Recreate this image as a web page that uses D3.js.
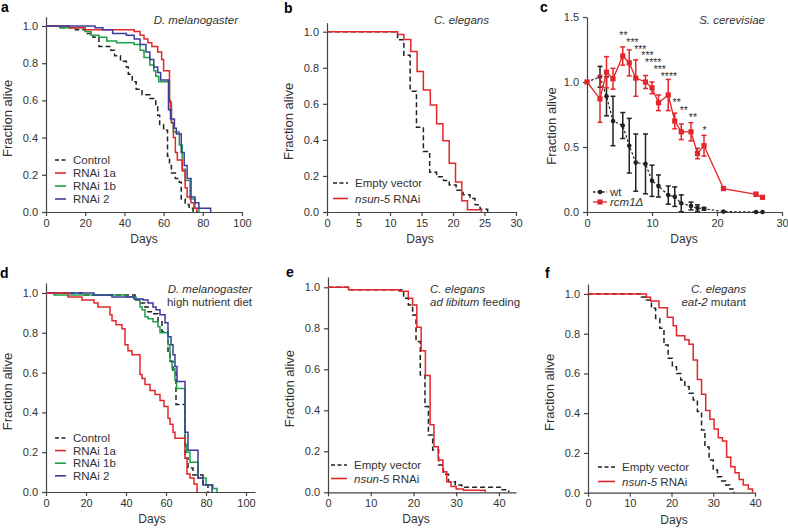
<!DOCTYPE html>
<html><head><meta charset="utf-8">
<script src="https://cdn.jsdelivr.net/npm/d3@7"></script>
<style>
body{margin:0;background:#fff;}
svg{display:block;font-family:"Liberation Sans",Arial,Helvetica,sans-serif;}
.axis path,.axis line{stroke:#444;stroke-width:1.2;}
.axis text{fill:#333;font-size:11px;font-family:"Liberation Sans",Arial,sans-serif;}
</style></head>
<body>
<script>
// ---------- DATA ----------
// Panel a: D. melanogaster  [day, fraction alive]
const aControl = [[0,1],[8,0.99],[15,0.98],[20,0.96],[24,0.94],[27,0.89],[33,0.87],[35,0.84],[38,0.81],[41,0.78],[42,0.74],[44,0.70],[46,0.66],[49,0.63],[53,0.61],[56,0.57],[57,0.52],[58,0.47],[60,0.44],[62,0.30],[63,0.25],[64,0.21],[66,0.18],[68,0.16],[69,0.07],[71,0.04],[73,0.02],[75,0.005],[77,0]];
const aRNAi1a = [[0,1],[12,0.99],[20,0.98],[45,0.97],[48,0.95],[50,0.93],[52,0.91],[54,0.89],[57,0.86],[59,0.82],[60,0.76],[63,0.60],[63.5,0.55],[64,0.48],[65,0.40],[66,0.32],[67,0.28],[69.5,0.22],[71,0.13],[72,0.08],[74,0.05],[75.5,0.02],[77,0]];
const aRNAi1b = [[0,1],[7,0.99],[20,0.97],[23,0.95],[27,0.94],[31,0.92],[36,0.91],[45,0.90],[48,0.87],[50,0.83],[53,0.79],[55,0.76],[56,0.73],[57.5,0.70],[63,0.59],[64,0.48],[65,0.43],[68,0.36],[69.5,0.23],[71,0.17],[73.5,0.07],[76,0.02],[78,0]];
const aRNAi2 = [[0,1],[25,0.99],[29,0.98],[34,0.96],[41,0.95],[45,0.93],[48,0.90],[51,0.86],[53,0.82],[55,0.78],[57,0.75],[58.5,0.71],[62.5,0.55],[63.5,0.50],[65.5,0.45],[66.5,0.42],[69,0.32],[70.5,0.25],[72,0.18],[74,0.08],[76,0.05],[78,0.02],[84,0]];

// Panel d: D. melanogaster, high nutrient diet
const dControl = [[0,1],[18,0.99],[44.5,0.965],[47,0.95],[49.5,0.93],[51,0.905],[53.5,0.895],[56,0.855],[58,0.805],[61,0.70],[62,0.655],[63.5,0.60],[65,0.44],[69.5,0.17],[71,0.12],[73.5,0.085],[78.5,0.035],[81,0]];
const dRNAi1a = [[0,1],[11,0.98],[18,0.965],[24,0.95],[26,0.93],[32,0.89],[33,0.86],[35,0.84],[38,0.82],[39.5,0.74],[41,0.71],[43,0.69],[47,0.59],[48,0.57],[49.5,0.54],[52,0.51],[54.5,0.49],[57,0.46],[59,0.43],[61,0.37],[62,0.34],[63.5,0.30],[64.5,0.27],[69.5,0.17],[70.5,0.09],[72,0.07],[74,0.04],[75.5,0]];
const dRNAi1b = [[0,1],[4,0.99],[40,0.98],[45,0.965],[47,0.93],[48,0.915],[49.5,0.88],[51,0.87],[53.5,0.855],[56,0.83],[57,0.80],[61,0.74],[62,0.66],[63,0.62],[64.5,0.56],[65.3,0.52],[69.5,0.24],[70.3,0.20],[72,0.15],[76,0.07],[80,0.035],[83.5,0.018],[85.5,0]];
const dRNAi2 = [[0,1],[24,0.99],[33,0.98],[44,0.97],[48.5,0.965],[51,0.95],[53.5,0.93],[55,0.915],[57,0.89],[59.5,0.85],[61,0.78],[62.5,0.74],[63.5,0.69],[64.5,0.63],[65.5,0.555],[69.5,0.30],[71,0.21],[76,0.07],[78.5,0.035],[83,0]];

// Panel b: C. elegans
const bEmpty = [[0,1],[11.2,0.955],[12.2,0.87],[13.2,0.67],[14.2,0.47],[15.3,0.335],[16.3,0.22],[17.4,0.195],[18.5,0.175],[19.4,0.15],[20.5,0.12],[21.6,0.095],[22.7,0.075],[23.5,0.04],[24.3,0.015],[25.5,0]];
const bNsun5 = [[0,1],[11.2,0.985],[12.2,0.957],[13.3,0.89],[14.3,0.78],[15.3,0.677],[16.4,0.593],[17.4,0.49],[18.4,0.395],[19.4,0.27],[20.4,0.166],[21.4,0.063],[22.3,0.012],[24.5,0]];

// Panel e: C. elegans ad libitum feeding
const eEmpty = [[0,1],[4.8,0.988],[17.7,0.946],[18.8,0.914],[19.8,0.865],[20.6,0.735],[21.6,0.572],[22.7,0.418],[23.5,0.28],[24.5,0.206],[25.9,0.133],[27,0.088],[28.2,0.052],[29.8,0.036],[31.3,0.025],[40.3,0.012],[42.3,0]];
const eNsun5 = [[0,1],[4.8,0.988],[16.7,0.98],[18.8,0.946],[19.8,0.914],[20.8,0.805],[21.8,0.69],[22.8,0.57],[23.9,0.33],[24.8,0.222],[25.8,0.157],[26.9,0.10],[27.8,0.052],[28.8,0.028],[30,0.016],[31.7,0.01],[36.8,0]];

// Panel f: C. elegans eat-2 mutant
const fEmpty = [[0,1],[12.8,0.985],[14,0.97],[15.2,0.928],[16.2,0.877],[17.2,0.827],[18.2,0.743],[19.2,0.676],[20.2,0.634],[21.2,0.60],[22.2,0.567],[23.2,0.534],[24.2,0.50],[25.2,0.466],[26.2,0.408],[27.2,0.315],[28,0.23],[29,0.164],[30,0.114],[31,0.08],[32,0.059],[33,0.039],[34,0.018],[35,0]];
const fNsun5 = [[0,1],[14,0.983],[15,0.965],[17,0.93],[19,0.883],[20.4,0.84],[21.2,0.79],[23.2,0.77],[24.2,0.747],[25.2,0.668],[26.2,0.57],[27.2,0.495],[28.2,0.413],[29.2,0.37],[30.2,0.32],[31.2,0.277],[32.2,0.26],[33.2,0.178],[34.2,0.131],[35.2,0.10],[36.2,0.067],[37.2,0.039],[38.4,0.018],[39.4,0]];

// Panel c: S. cerevisiae
const cDays   = [0,2,3,4,5.5,6.5,7.5,9,10,11,12.5,13.5,14.5,16,17,18,21,26,27];
const cWt     = [1.0,1.04,0.89,0.70,0.665,0.51,0.38,0.37,0.24,0.20,0.13,0.118,0.067,0.046,0.03,0.025,0.003,0.0,0.0];
const cWtErr  = [0,0.08,0.15,0.19,0.10,0.21,0.22,0.23,0.12,0.085,0.07,0.075,0.065,0.03,0.025,0.01,0,0,0];
const cRcm    = [1.0,0.87,1.075,1.025,1.2,1.147,1.03,1.0,0.955,0.84,0.9,0.70,0.617,0.617,0.45,0.51,0.18,0.136,0.113];
const cRcmErr = [0,0.18,0.12,0.08,0.07,0.10,0.14,0.05,0.045,0.06,0.12,0.06,0.06,0.07,0.04,0.08,0.01,0.015,0.008];
const starDays   = [5.6,7.0,8.2,9.3,10.2,11.2,12.6,13.8,14.9,16.3,18.1];
const starLevels = [1.375,1.32,1.27,1.22,1.17,1.115,1.065,0.86,0.80,0.745,0.645];
const starLabels = ["**","***","***","***","****","***","****","**","**","**","*"];

// tick labels
const ticksFly = [0,20,40,60,80,100];
const ticksB = [0,5,10,15,20,25,30];
const ticksWorm = [0,10,20,30,40];
const ticksC = [0,10,20,30];
const yTicks = [0,0.2,0.4,0.6,0.8,1.0];
const yTicksC = [0,0.5,1.0,1.5];

// ---------- DRAW ----------
const RED="#e3262b", GREEN="#1f9e4a", BLUE="#3b3c9a", BLACK="#222";
const svg = d3.select("body").append("svg").attr("width",788).attr("height",531);
svg.append("rect").attr("width",788).attr("height",531).attr("fill","#fff");

function axes(g, x, y, xt, yt){
  g.append("g").attr("class","axis").attr("transform",`translate(0,${y.range()[0]})`)
    .call(d3.axisBottom(x).tickValues(xt).tickSize(4).tickSizeOuter(0).tickPadding(3).tickFormat(d3.format("d")));
  g.append("g").attr("class","axis").attr("transform",`translate(${x.range()[0]},0)`)
    .call(d3.axisLeft(y).tickValues(yt).tickSize(4).tickSizeOuter(0).tickPadding(4).tickFormat(d3.format(".1f")));
}
function titles(g, x, y, letter, lx, ly, dx, ycen, tx){
  const [x0,x1]=x.range(), [y0,y1]=y.range();
  g.append("text").attr("x",dx!=null?dx:(x0+x1)/2).attr("y",y0+31).attr("text-anchor","middle")
    .attr("font-size",12).attr("fill","#333").text("Days");
  g.append("text").attr("transform",`translate(${x0-(tx||34)},${ycen!=null?ycen:(y0+y1)/2+4}) rotate(-90)`).attr("text-anchor","middle")
    .attr("font-size",13).attr("fill","#333").text("Fraction alive");
  g.append("text").attr("x",lx).attr("y",ly).attr("font-size",14).attr("font-weight","bold").attr("fill","#000").text(letter);
}
function steps(g, x, y, data, color, dashed){
  const line = d3.line().x(d=>x(d[0])).y(d=>y(d[1])).curve(d3.curveStepAfter);
  g.append("path").attr("d",line(data)).attr("fill","none").attr("stroke",color)
    .attr("stroke-width",1.5).attr("stroke-dasharray",dashed?"5,3":null);
}
function legend(g, items, lx, ly, dy, len){
  items.forEach((it,i)=>{
    const yy = ly + i*dy;
    g.append("line").attr("x1",lx).attr("x2",lx+len).attr("y1",yy).attr("y2",yy)
      .attr("stroke",it.color).attr("stroke-width",1.6).attr("stroke-dasharray",it.dashed?"4,2.5":null);
    const t = g.append("text").attr("x",lx+len+7).attr("y",yy+4).attr("font-size",11.5).attr("fill","#333");
    it.parts.forEach(p=>t.append("tspan").attr("font-style",p[1]?"italic":null).text(p[0]));
  });
}
function label(g, lines, x, y, anchor){
  lines.forEach((parts,i)=>{
    const t = g.append("text").attr("x",x).attr("y",y+i*13).attr("text-anchor",anchor).attr("font-size",11.5).attr("fill","#333");
    parts.forEach(p=>t.append("tspan").attr("font-style",p[1]?"italic":null).text(p[0]));
  });
}

// Panel a
{
  const g = svg.append("g");
  const x = d3.scaleLinear().domain([0,100]).range([46,242]);
  const y = d3.scaleLinear().domain([0,1.05]).range([212,16.7]);
  axes(g,x,y,ticksFly,yTicks); titles(g,x,y,"a",1,12);
  steps(g,x,y,aControl,BLACK,true); steps(g,x,y,aRNAi1b,GREEN); steps(g,x,y,aRNAi1a,RED); steps(g,x,y,aRNAi2,BLUE);
  label(g,[[["D. melanogaster",1]]],238,24,"end");
  legend(g,[{color:BLACK,dashed:1,parts:[["Control"]]},{color:RED,parts:[["RNAi 1a"]]},{color:GREEN,parts:[["RNAi 1b"]]},{color:BLUE,parts:[["RNAi 2"]]}],55,160,13,11);
}
// Panel d
{
  const g = svg.append("g");
  const x = d3.scaleLinear().domain([0,104.5]).range([46,255]);
  const y = d3.scaleLinear().domain([0,1.05]).range([492,283]);
  axes(g,x,y,ticksFly,yTicks); titles(g,x,y,"d",0,278,152);
  steps(g,x,y,dControl,BLACK,true); steps(g,x,y,dRNAi1b,GREEN); steps(g,x,y,dRNAi2,BLUE); steps(g,x,y,dRNAi1a,RED);
  label(g,[[["D. melanogaster",1]],[["high nutrient diet"]]],252,293,"end");
  legend(g,[{color:BLACK,dashed:1,parts:[["Control"]]},{color:RED,parts:[["RNAi 1a"]]},{color:GREEN,parts:[["RNAi 1b"]]},{color:BLUE,parts:[["RNAi 2"]]}],55,438,12.6,11);
}
// Panel b
{
  const g = svg.append("g");
  const x = d3.scaleLinear().domain([0,30]).range([327,516]);
  const y = d3.scaleLinear().domain([0,1.05]).range([212,22.7]);
  axes(g,x,y,ticksB,yTicks); titles(g,x,y,"b",284,13,420);
  steps(g,x,y,bEmpty,BLACK,true); steps(g,x,y,bNsun5,RED);
  label(g,[[["C. elegans",1]]],489,24,"end");
  legend(g,[{color:BLACK,dashed:1,parts:[["Empty vector"]]},{color:RED,parts:[["nsun-5",1],[" RNAi"]]}],333,183,15.5,15);
}
// Panel e
{
  const g = svg.append("g");
  const x = d3.scaleLinear().domain([0,44]).range([328,516]);
  const y = d3.scaleLinear().domain([0,1.05]).range([492.3,277]);
  axes(g,x,y,ticksWorm,yTicks); titles(g,x,y,"e",286,277,416);
  steps(g,x,y,eEmpty,BLACK,true); steps(g,x,y,eNsun5,RED);
  label(g,[[["C. elegans",1]],[["ad libitum",1],[" feeding"]]],430,293,"start");
  legend(g,[{color:BLACK,dashed:1,parts:[["Empty vector"]]},{color:RED,parts:[["nsun-5",1],[" RNAi"]]}],331,465,13.5,16);
}
// Panel f
{
  const g = svg.append("g");
  const x = d3.scaleLinear().domain([0,40]).range([588,755]);
  const y = d3.scaleLinear().domain([0,1.05]).range([492.7,284]);
  axes(g,x,y,ticksWorm,yTicks); titles(g,x,y,"f",545,278,674);
  steps(g,x,y,fEmpty,BLACK,true); steps(g,x,y,fNsun5,RED);
  label(g,[[["C. elegans",1]],[["eat-2",1],[" mutant"]]],746,293,"end");
  legend(g,[{color:BLACK,dashed:1,parts:[["Empty vector"]]},{color:RED,parts:[["nsun-5",1],[" RNAi"]]}],598,467,14.5,17);
}
// Panel c
{
  const g = svg.append("g");
  const x = d3.scaleLinear().domain([0,30]).range([587,782]);
  const y = d3.scaleLinear().domain([0,1.5]).range([212,17]);
  g.append("g").attr("class","axis").attr("transform","translate(0,212)")
    .call(d3.axisBottom(x).tickValues(ticksC).tickSize(4).tickSizeOuter(0).tickPadding(3).tickFormat(d3.format("d")));
  g.append("g").attr("class","axis").attr("transform","translate(587,0)")
    .call(d3.axisLeft(y).tickValues(yTicksC).tickSize(4).tickSizeOuter(0).tickPadding(4).tickFormat(d3.format(".1f")));
  titles(g,x,y,"c",540,12,684,126,31);
  const wt = cDays.map((d,i)=>({d, v:cWt[i], e:cWtErr[i]}));
  const rc = cDays.map((d,i)=>({d, v:cRcm[i], e:cRcmErr[i]}));
  function errs(data,color){
    data.filter(p=>p.e>0).forEach(p=>{
      const xx=x(p.d), yl=y(Math.max(0,p.v-p.e)), yh=y(p.v+p.e);
      g.append("line").attr("x1",xx).attr("x2",xx).attr("y1",yl).attr("y2",yh).attr("stroke",color).attr("stroke-width",1.5);
      [yl,yh].forEach(yy=>g.append("line").attr("x1",xx-2.5).attr("x2",xx+2.5).attr("y1",yy).attr("y2",yy).attr("stroke",color).attr("stroke-width",1.5));
    });
  }
  const line = d3.line().x(p=>x(p.d)).y(p=>y(p.v));
  errs(wt,BLACK);
  g.append("path").attr("d",line(wt)).attr("fill","none").attr("stroke",BLACK).attr("stroke-width",1.2).attr("stroke-dasharray","2.5,2");
  g.selectAll(null).data(wt).enter().append("circle").attr("cx",p=>x(p.d)).attr("cy",p=>y(p.v)).attr("r",2.3).attr("fill",BLACK);
  errs(rc,RED);
  g.append("path").attr("d",line(rc)).attr("fill","none").attr("stroke",RED).attr("stroke-width",1.3);
  g.selectAll(null).data(rc).enter().append("rect").attr("x",p=>x(p.d)-2.6).attr("y",p=>y(p.v)-2.6).attr("width",5.2).attr("height",5.2).attr("fill",RED);
  starDays.forEach((d,i)=>{
    g.append("text").attr("x",x(d)).attr("y",y(starLevels[i])+6).attr("text-anchor","middle")
      .attr("font-size",10.5).attr("fill","#333").text(starLabels[i]);
  });
  label(g,[[["S. cerevisiae",1]]],765,24,"end");
  // legend
  const lx=593, items=[{c:BLACK,sq:0,dash:"2.5,2",parts:[["wt"]]},{c:RED,sq:1,dash:null,parts:[["rcm1Δ",1]]}];
  items.forEach((it,i)=>{
    const yy=192+i*10;
    g.append("line").attr("x1",lx).attr("x2",lx+14).attr("y1",yy).attr("y2",yy).attr("stroke",it.c).attr("stroke-width",1.3).attr("stroke-dasharray",it.dash);
    if(it.sq) g.append("rect").attr("x",lx+7-2.6).attr("y",yy-2.6).attr("width",5.2).attr("height",5.2).attr("fill",it.c);
    else g.append("circle").attr("cx",lx+7).attr("cy",yy).attr("r",2.3).attr("fill",it.c);
    const t=g.append("text").attr("x",lx+17).attr("y",yy+4).attr("font-size",11.5).attr("fill","#333");
    it.parts.forEach(p=>t.append("tspan").attr("font-style",p[1]?"italic":null).text(p[0]));
  });
}
</script>
</body></html>
